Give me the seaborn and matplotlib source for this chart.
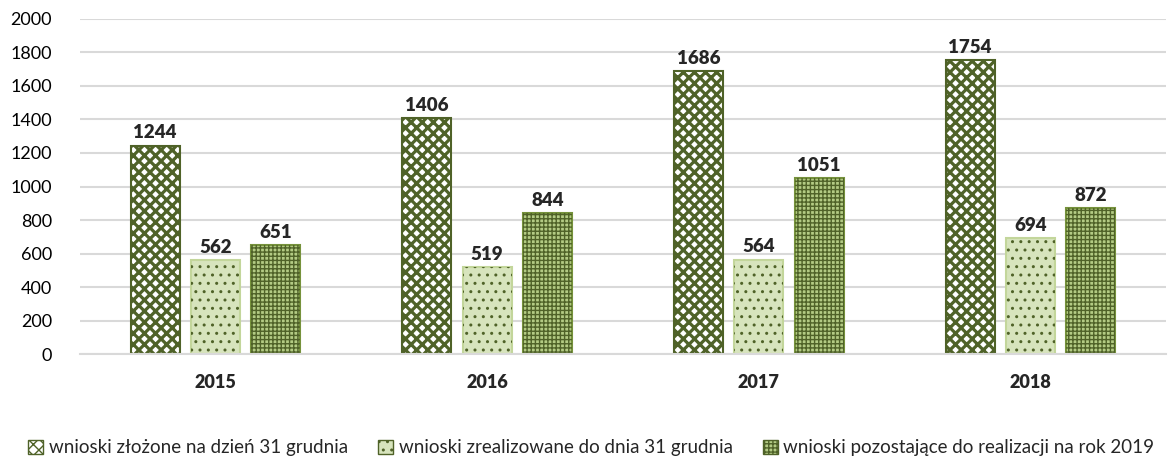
import pandas as pd
import numpy as np
import matplotlib
import matplotlib.pyplot as plt
from matplotlib.patches import Rectangle, Patch
import seaborn as sns

years = ["2015", "2016", "2017", "2018"]
series = [
    "wnioski złożone na dzień 31 grudnia",
    "wnioski zrealizowane do dnia 31 grudnia",
    "wnioski pozostające do realizacji na rok 2019",
]
zlozone = [1244, 1406, 1686, 1754]
zrealizowane = [562, 519, 564, 694]
pozostajace = [651, 844, 1051, 872]

df = pd.DataFrame({
    "rok": years * 3,
    "seria": [series[0]] * 4 + [series[1]] * 4 + [series[2]] * 4,
    "liczba": zlozone + zrealizowane + pozostajace,
})

DARK = "#4F6228"
# face, edge, hatch, hatch colour, hatch linewidth
styles = [
    ("white", DARK, "xxx", DARK, 2.3),
    ("#D7E4BD", "#C3D69B", "..", DARK, 1.0),
    ("#B3CB84", "#76923C", "++++", DARK, 1.0),
]

sns.set_theme(style="white")
plt.rcParams["font.family"] = ["Lato", "DejaVu Sans"]

fig, ax = plt.subplots(figsize=(11.71, 4.71), dpi=100)
fig.subplots_adjust(left=0.068, right=0.996, top=0.96, bottom=0.248)

sns.barplot(data=df, x="rok", y="liczba", hue="seria", hue_order=series,
            order=years, width=0.667, gap=0.19, ax=ax, legend=False,
            errorbar=None)

for cont, (fc, ec, h, hc, hlw) in zip(ax.containers, styles):
    for bar in cont:
        bar.set_facecolor(fc)
        bar.set_edgecolor(ec)
        bar.set_linewidth(1.5)
        with matplotlib.rc_context({"hatch.linewidth": hlw}):
            over = Rectangle(bar.get_xy(), bar.get_width(), bar.get_height(),
                             facecolor="none", edgecolor=hc, hatch=h, linewidth=0,
                             zorder=bar.get_zorder() + 0.1)
        ax.add_patch(over)
    ax.bar_label(cont, fmt="%d", padding=3, fontsize=13.5, fontweight="heavy")

ax.set_ylim(0, 2000)
ax.set_yticks(range(0, 2001, 200))
ax.set_xlim(-0.5, 3.5)
ax.yaxis.grid(True, color="#D9D9D9", linewidth=1.5)
ax.set_axisbelow(True)
for s in ["left", "right", "top"]:
    ax.spines[s].set_visible(False)
ax.spines["bottom"].set_color("#D9D9D9")
ax.spines["bottom"].set_linewidth(1.5)
ax.set_xlabel("")
ax.set_ylabel("")
ax.tick_params(axis="y", labelsize=13, length=0, pad=20, colors="black")
ax.tick_params(axis="x", labelsize=13, length=0, pad=14)
for lab in ax.get_xticklabels():
    lab.set_fontweight("heavy")

handles = []
for fc, ec, h, hc, hlw in styles:
    handles.append(Patch(facecolor=fc, edgecolor=hc, hatch=h, linewidth=1))
leg = fig.legend(handles, series, loc="lower center", ncol=3, frameon=False,
                 fontsize=13.5, bbox_to_anchor=(0.505, -0.005),
                 handlelength=0.8, handleheight=0.8, handletextpad=0.3,
                 columnspacing=1.6)

fig.savefig("out.png", dpi=100)
